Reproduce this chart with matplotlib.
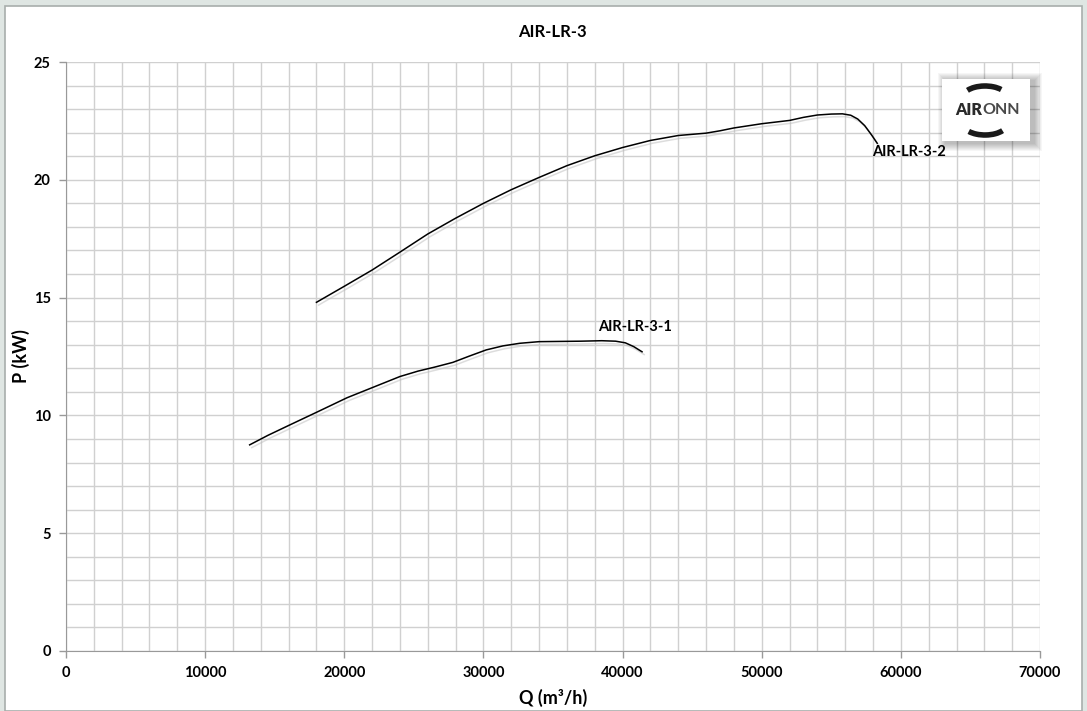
import numpy as np
import matplotlib.pyplot as plt
import matplotlib.patheffects as pe
from matplotlib.patches import Rectangle, Arc

plt.rcParams['font.family'] = ['Lato', 'DejaVu Sans']

# AIR-LR-3-1 curve (Q in m3/h, P in kW)
q1 = [13200, 14500, 16100, 18000, 20200, 22100, 24000, 25300, 26500, 27800, 29000,
      30200, 31400, 32600, 34000, 35500, 37000, 38500, 39500, 40200, 40800, 41400]
p1 = [8.75, 9.15, 9.6, 10.13, 10.75, 11.2, 11.65, 11.88, 12.05, 12.25, 12.52,
      12.78, 12.95, 13.06, 13.13, 13.14, 13.15, 13.17, 13.15, 13.08, 12.92, 12.7]

# AIR-LR-3-2 curve
q2 = [18000, 20000, 22000, 24000, 26000, 28000, 30000, 32000, 34000, 36000,
      38000, 40000, 42000, 44000, 46000, 47000, 48000, 50000, 52000, 53000, 54000,
      55000, 55800, 56400, 56900, 57400, 57900, 58300]
p2 = [14.8, 15.48, 16.17, 16.93, 17.7, 18.37, 19.0, 19.58, 20.1, 20.6,
      21.02, 21.37, 21.67, 21.88, 21.98, 22.08, 22.2, 22.38, 22.52, 22.65, 22.75,
      22.79, 22.8, 22.74, 22.58, 22.3, 21.9, 21.55]

W, H = 1087, 711
fig = plt.figure(figsize=(W / 100, H / 100), dpi=100)
fig.patch.set_facecolor('#dfe6e3')
fig.patches.append(Rectangle((5 / W, 0), 1077 / W, 705 / H,
                             transform=fig.transFigure, facecolor='white',
                             edgecolor='#a8aeac', lw=1.2, zorder=-1))

ax = fig.add_axes([66 / W, 1 - 651 / H, 974 / W, 589 / H])
ax.set_facecolor('white')
ax.set_xlim(0, 70000)
ax.set_ylim(0, 25)
ax.set_xticks(np.arange(0, 70001, 10000))
ax.set_yticks(np.arange(0, 26, 5))
ax.set_xticks(np.arange(0, 70001, 2000), minor=True)
ax.set_yticks(np.arange(0, 26, 1), minor=True)
ax.grid(True, which='both', color='#d0d0d0', lw=1.0)
ax.set_axisbelow(True)
ax.tick_params(which='minor', length=0)
ax.tick_params(which='major', length=5, color='#999999', width=1)
ax.tick_params(axis='both', labelsize=10.5, pad=6)
for lab in ax.get_xticklabels() + ax.get_yticklabels():
    lab.set_fontweight('bold')
for s in ['top', 'right']:
    ax.spines[s].set_visible(False)
for s in ['left', 'bottom']:
    ax.spines[s].set_color('#999999')

shadow = [pe.SimpleLineShadow(offset=(1.5, -2), shadow_color='#bbbbbb', alpha=0.5), pe.Normal()]
ax.plot(q1, p1, color='black', lw=1.1, path_effects=shadow)
ax.plot(q2, p2, color='black', lw=1.1, path_effects=shadow)

ax.text(q1[-1] - 500, 13.45, 'AIR-LR-3-1', fontsize=10.5, fontweight='bold', ha='center', va='bottom')
ax.text(q2[-1] - 400, 20.9, 'AIR-LR-3-2', fontsize=10.5, fontweight='bold', ha='left', va='bottom')

ax.set_xlabel('Q (m³/h)', fontsize=13, fontweight='bold', labelpad=6)
ax.set_ylabel('P (kW)', fontsize=13, fontweight='bold', labelpad=3)
fig.text(552 / W, 1 - 32 / H, 'AIR-LR-3', fontsize=12, fontweight='bold', ha='center', va='center')

# logo box with soft shadow
lx0, ly0, lw_, lh = 942 / W, 1 - 141 / H, 88 / W, 62 / H
for i in range(8):
    d = 8 - i
    fig.patches.append(Rectangle((lx0 + (4 - d) / W, ly0 - (d + 2) / H),
                                 lw_ + 2 * d / W, lh + 2 * d / H,
                                 transform=fig.transFigure, facecolor='black',
                                 alpha=0.035, edgecolor='none', zorder=5))
fig.patches.append(Rectangle((lx0, ly0), lw_, lh, transform=fig.transFigure,
                             facecolor='white', edgecolor='none', zorder=6))
fig.text(982 / W, 1 - 110 / H, 'AIR', fontsize=11.5, fontweight='heavy',
         color='#2a2a2a', ha='right', va='center', zorder=7)
fig.text(982 / W, 1 - 110 / H, 'ONN', fontsize=11.5, fontweight='bold', color='#4a4a4a',
         ha='left', va='center', zorder=7)
fig.patches.append(Arc((985 / W, 1 - 97 / H), 44 / W, 22 / H, theta1=35, theta2=150,
                       transform=fig.transFigure, color='#1a1a1a', lw=4, zorder=7))
fig.patches.append(Arc((985 / W, 1 - 124 / H), 44 / W, 22 / H, theta1=215, theta2=330,
                       transform=fig.transFigure, color='#1a1a1a', lw=4, zorder=7))

fig.savefig('out.png', dpi=100, facecolor=fig.get_facecolor())
